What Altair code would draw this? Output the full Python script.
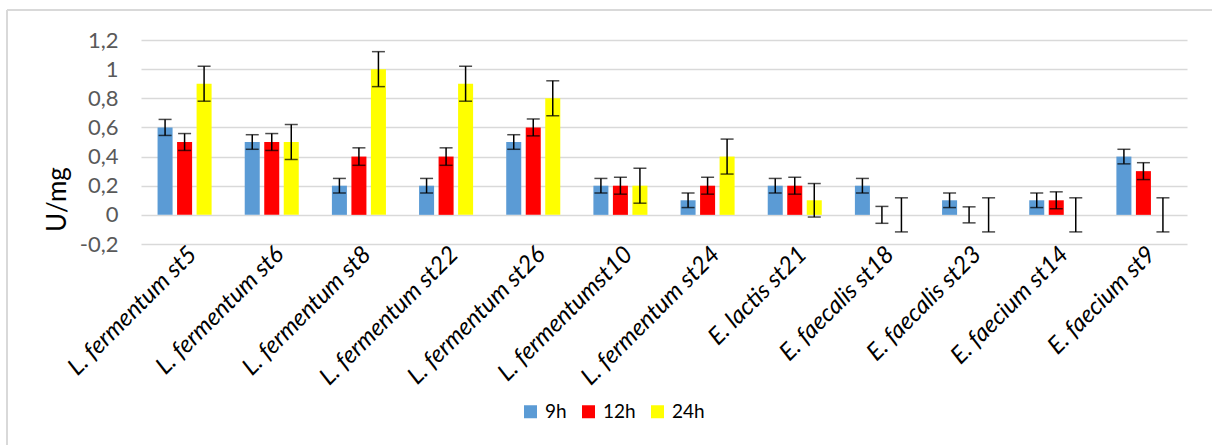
import altair as alt
import pandas as pd

# Strains on the x axis
categories = [
    "L. fermentum st5", "L. fermentum st6", "L. fermentum st8",
    "L. fermentum st22", "L. fermentum st26", "L. fermentumst10",
    "L. fermentum st24", "E. lactis st21", "E. faecalis st18",
    "E. faecalis st23", "E. faecium st14", "E. faecium st9",
]
series = ["9h", "12h", "24h"]
colors = ["#5B9BD5", "#FF0000", "#FFFF00"]

# Activity (U/mg) per incubation time
values_9h = [0.6, 0.5, 0.2, 0.2, 0.5, 0.2, 0.1, 0.2, 0.2, 0.1, 0.1, 0.4]
values_12h = [0.5, 0.5, 0.4, 0.4, 0.6, 0.2, 0.2, 0.2, 0.0, 0.0, 0.1, 0.3]
values_24h = [0.9, 0.5, 1.0, 0.9, 0.8, 0.2, 0.4, 0.1, 0.0, 0.0, 0.0, 0.0]

# Error bar half-widths
err_9h = [0.055, 0.05, 0.05, 0.05, 0.05, 0.05, 0.05, 0.05, 0.05, 0.05, 0.05, 0.05]
err_12h = [0.058, 0.058, 0.06, 0.06, 0.058, 0.058, 0.058, 0.058, 0.058, 0.055, 0.058, 0.058]
err_24h = [0.12, 0.12, 0.12, 0.12, 0.12, 0.12, 0.12, 0.115, 0.117, 0.117, 0.117, 0.117]

y_ticks = [-0.2, 0.0, 0.2, 0.4, 0.6, 0.8, 1.0, 1.2]

rows = []
for s, vals, errs in [("9h", values_9h, err_9h), ("12h", values_12h, err_12h), ("24h", values_24h, err_24h)]:
    for c, v, e in zip(categories, vals, errs):
        rows.append({"strain": c, "time": s, "value": v, "err": e})
df = pd.DataFrame(rows)

FONT = "Lato"
W, H = 1046, 204

x_enc = alt.X(
    "strain:N",
    sort=categories,
    scale=alt.Scale(paddingInner=0.38, paddingOuter=0.19),
    axis=alt.Axis(
        title=None, labelAngle=-45, labelFont=FONT, labelFontStyle="italic",
        labelFontSize=24, labelColor="#000000", ticks=False, domain=False,
        labelPadding=-2, labelLimit=400, labelOverlap=False,
    ),
)
xoff = alt.XOffset("time:N", sort=series, scale=alt.Scale(paddingInner=0.23, paddingOuter=0))

base = alt.Chart(df).encode(x=x_enc, xOffset=xoff)

y_scale = alt.Scale(domain=[-0.2, 1.2], nice=False, zero=False)

bars = base.mark_bar().encode(
    y=alt.Y(
        "value:Q",
        scale=y_scale,
        axis=alt.Axis(
            values=y_ticks, title="U/mg", titleFont=FONT, titleFontSize=26,
            titleFontWeight="normal", titleColor="#000000", titleAngle=-90,
            titleAlign="center", titleBaseline="middle", titleX=-84, titleY=159,
            labelFont=FONT, labelFontSize=22, labelColor="#595959",
            labelExpr="replace(toString(datum.value), '.', ',')",
            labelPadding=23, ticks=False, domain=False, labelOverlap=False,
            labelFlush=False, gridColor="#D9D9D9", gridWidth=1.5,
        ),
    ),
    y2=alt.datum(0),
    color=alt.Color(
        "time:N", sort=series,
        scale=alt.Scale(domain=series, range=colors),
        legend=alt.Legend(
            title=None, orient="none", direction="horizontal",
            legendX=380, legendY=362, symbolType="square", symbolSize=169,
            symbolStrokeWidth=0, labelFont=FONT, labelFontSize=19,
            labelColor="#000000", labelOffset=5, columnPadding=12,
        ),
    ),
)

err = base.transform_calculate(
    lo="datum.value - datum.err", hi="datum.value + datum.err"
)
stems = err.mark_rule(color="#000000", strokeWidth=1.5).encode(
    y=alt.Y("lo:Q", scale=y_scale, axis=None), y2="hi:Q"
)
caps_hi = err.mark_tick(color="#000000", thickness=1.5, size=13).encode(
    y=alt.Y("hi:Q", scale=y_scale, axis=None)
)
caps_lo = err.mark_tick(color="#000000", thickness=1.5, size=13).encode(
    y=alt.Y("lo:Q", scale=y_scale, axis=None)
)

# Light frame around the whole figure
frame_top = alt.Chart(df).mark_rule(color="#D9D9D9", strokeWidth=2).encode(
    x=alt.value(-134), x2=alt.value(1071), y=alt.value(-30), y2=alt.value(-30)
)
frame_left = alt.Chart(df).mark_rule(color="#D9D9D9", strokeWidth=2).encode(
    x=alt.value(-134), x2=alt.value(-134), y=alt.value(-30), y2=alt.value(405)
)

chart = alt.layer(bars, stems, caps_hi, caps_lo, frame_top, frame_left).resolve_axis(
    y="independent"
).properties(
    width=W, height=H,
    autosize=alt.AutoSizeParams(type="none"),
    padding={"left": 141, "top": 40, "right": 25, "bottom": 201},
    background="white",
).configure_view(stroke=None)

chart.save("out.html", embed_options={"renderer": "svg", "actions": False})
